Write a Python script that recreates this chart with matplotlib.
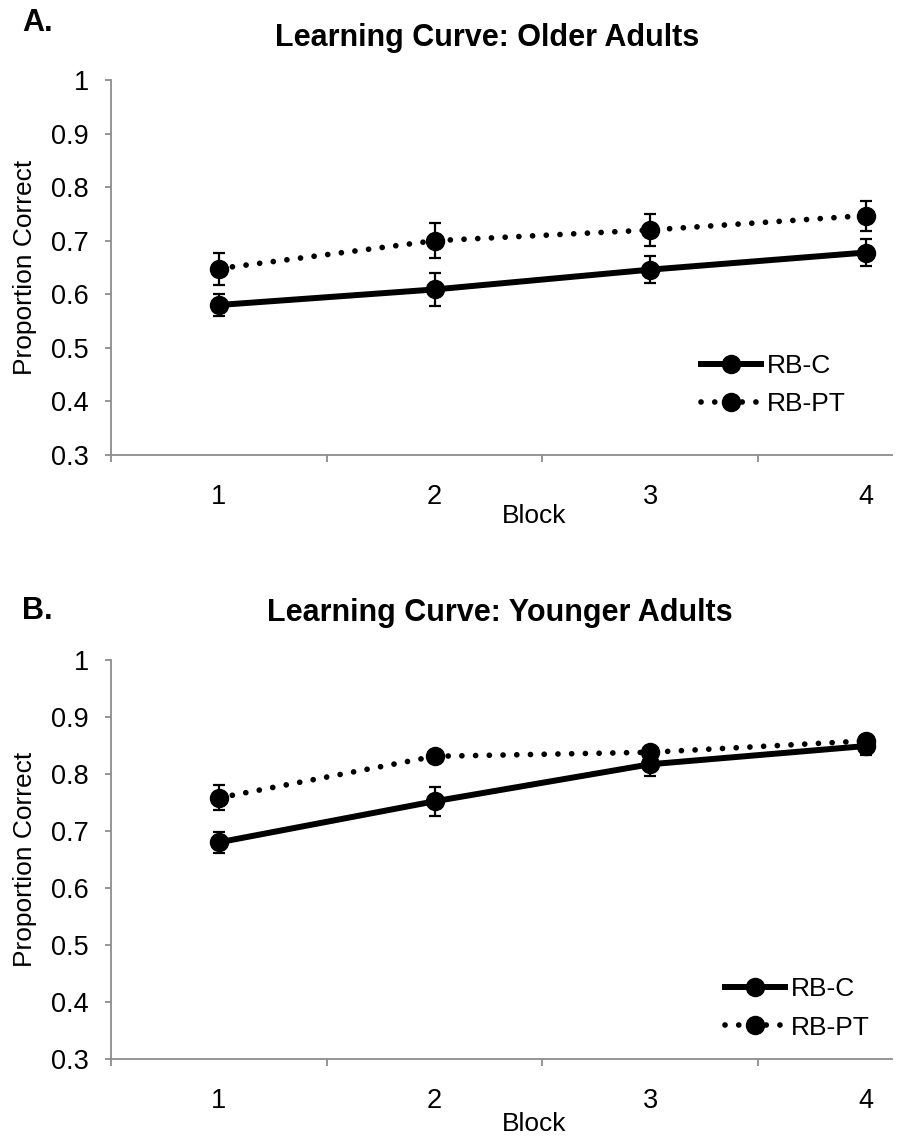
import matplotlib.pyplot as plt
from matplotlib.lines import Line2D

plt.rcParams['font.family'] = ['Liberation Sans', 'DejaVu Sans']

blocks = [1, 2, 3, 4]
block_labels = ['1', '2', '3', '4']

older_rbc = [0.580, 0.609, 0.646, 0.678]
older_rbc_err = [0.020, 0.031, 0.025, 0.026]
older_rbpt = [0.648, 0.700, 0.720, 0.747]
older_rbpt_err = [0.030, 0.033, 0.030, 0.028]

younger_rbc = [0.680, 0.752, 0.817, 0.849]
younger_rbc_err = [0.019, 0.025, 0.021, 0.016]
younger_rbpt = [0.758, 0.831, 0.838, 0.858]
younger_rbpt_err = [0.022, 0.009, 0.008, 0.008]

y_ticks = [0.3, 0.4, 0.5, 0.6, 0.7, 0.8, 0.9, 1.0]
y_tick_labels = ['0.3', '0.4', '0.5', '0.6', '0.7', '0.8', '0.9', '1']

AXIS_GREY = '#8c8c8c'
DOTTED = (0, (0.01, 2.4))
SOLID_LW = 4.3
DOT_LW = 4.1
MSIZE = 13


def draw_panel(ax, rbc, rbc_err, rbpt, rbpt_err, legend_xy):
    # error bars first so the markers sit on top of them
    ax.errorbar(blocks, rbc, yerr=rbc_err, fmt='none', ecolor='k',
                elinewidth=1.6, capsize=4, capthick=1.6, zorder=2)
    ax.errorbar(blocks, rbpt, yerr=rbpt_err, fmt='none', ecolor='k',
                elinewidth=1.6, capsize=4, capthick=1.6, zorder=2)
    ax.plot(blocks, rbc, color='k', linewidth=SOLID_LW, marker='o',
            markersize=MSIZE, solid_capstyle='round', zorder=3)
    ax.plot(blocks, rbpt, color='k', linewidth=DOT_LW, linestyle=DOTTED,
            dash_capstyle='round', marker='o', markersize=MSIZE, zorder=3)

    ax.set_xlim(0.5, 4.12)
    ax.set_ylim(0.3, 1.0)

    for side in ['top', 'right']:
        ax.spines[side].set_visible(False)
    for side in ['left', 'bottom']:
        ax.spines[side].set_color(AXIS_GREY)
        ax.spines[side].set_linewidth(1.3)

    ax.set_yticks(y_ticks)
    ax.set_yticklabels(y_tick_labels)
    ax.tick_params(axis='y', direction='out', length=4, width=1.3,
                   color=AXIS_GREY, pad=12, labelsize=19.5)

    # category labels in the middle, tick marks between categories
    ax.set_xticks(blocks)
    ax.set_xticklabels(block_labels)
    ax.set_xticks([0.5, 1.5, 2.5, 3.5], minor=True)
    ax.tick_params(axis='x', which='major', length=0, pad=21, labelsize=19.5)
    ax.tick_params(axis='x', which='minor', direction='out', length=5,
                   width=1.3, color=AXIS_GREY)

    ax.set_ylabel('Proportion Correct', fontsize=19)
    ax.yaxis.label.set_va('center')
    ax.yaxis.set_label_coords(-0.110, 0.5)

    handles = [
        Line2D([], [], color='k', linewidth=SOLID_LW, marker='o',
               markersize=MSIZE),
        Line2D([], [], color='k', linewidth=DOT_LW, linestyle=DOTTED,
               dash_capstyle='round', marker='o', markersize=MSIZE),
    ]
    ax.legend(handles, ['RB-C', 'RB-PT'], loc='upper left',
              bbox_to_anchor=legend_xy, frameon=False, fontsize=19,
              handlelength=2.3, handletextpad=0.2, labelspacing=0.55,
              borderpad=0, borderaxespad=0)


fig = plt.figure(figsize=(9.08, 11.4), dpi=100)

ax_a = fig.add_axes([0.1222, 0.6009, 0.860, 0.3289])
draw_panel(ax_a, older_rbc, older_rbc_err, older_rbpt, older_rbpt_err,
           (0.755, 0.27))
ax_a.set_xlabel('Block', fontsize=19)
ax_a.xaxis.set_label_coords(0.542, -0.163)
ax_a.xaxis.label.set_va('center')

ax_b = fig.add_axes([0.1222, 0.0711, 0.860, 0.35])
draw_panel(ax_b, younger_rbc, younger_rbc_err, younger_rbpt,
           younger_rbpt_err, (0.786, 0.205))
ax_b.set_xlabel('Block', fontsize=19)
ax_b.xaxis.set_label_coords(0.542, -0.163)
ax_b.xaxis.label.set_va('center')

fig.text(0.536, 1 - 38 / 1140, 'Learning Curve: Older Adults',
         fontsize=22, fontweight='bold', ha='center', va='center')
fig.text(0.551, 1 - 613 / 1140, 'Learning Curve: Younger Adults',
         fontsize=22, fontweight='bold', ha='center', va='center')
fig.text(0.024, 1 - 23 / 1140, 'A.', fontsize=22, fontweight='bold',
         ha='left', va='center')
fig.text(0.024, 1 - 611 / 1140, 'B.', fontsize=22, fontweight='bold',
         ha='left', va='center')

fig.savefig('out.png', dpi=100, facecolor='white')
